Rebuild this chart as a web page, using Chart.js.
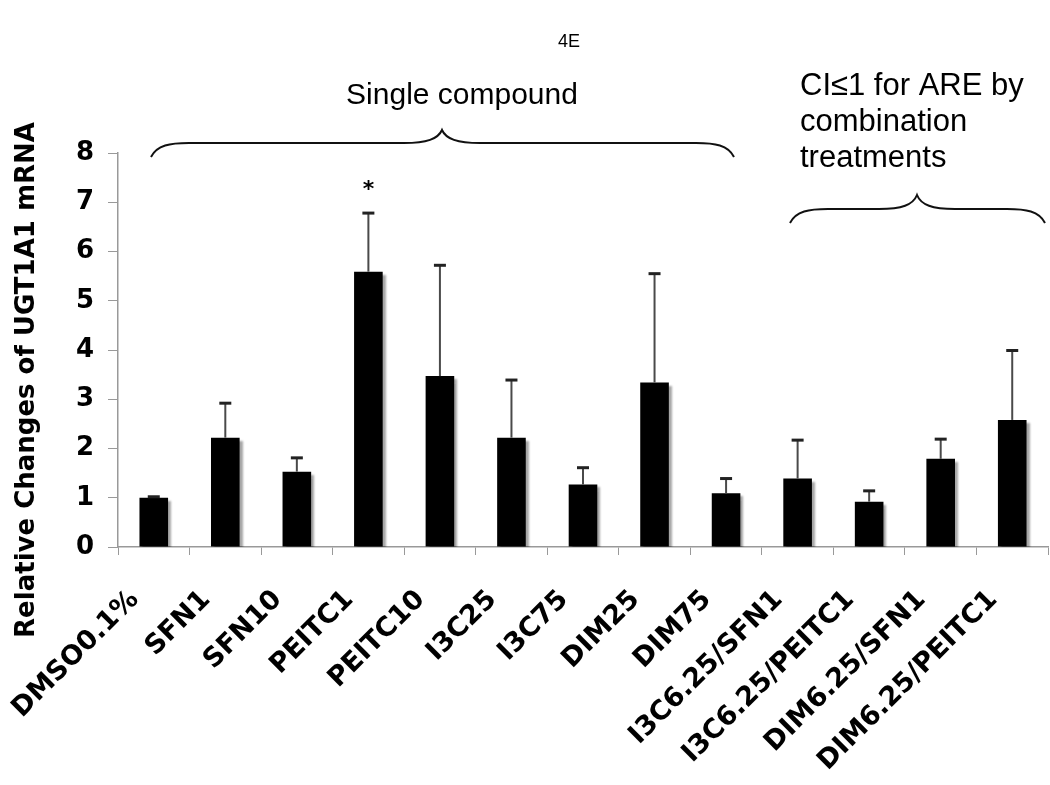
<!DOCTYPE html>
<html>
<head>
<meta charset="utf-8">
<script src="https://cdn.jsdelivr.net/npm/chart.js@4/dist/chart.umd.min.js"></script>
<style>
  html, body { margin: 0; padding: 0; background: #fff; }
</style>
</head>
<body>
<canvas id="ugtChart" width="1050" height="785"></canvas>
<script>
// data
const labels = ['DMSO0.1%', 'SFN1', 'SFN10', 'PEITC1', 'PEITC10', 'I3C25', 'I3C75', 'DIM25', 'DIM75',
                'I3C6.25/SFN1', 'I3C6.25/PEITC1', 'DIM6.25/SFN1', 'DIM6.25/PEITC1'];
const means = [1.00, 2.22, 1.53, 5.59, 3.47, 2.22, 1.27, 3.34, 1.09, 1.39, 0.92, 1.79, 2.58];
const errs  = [0.02, 0.70, 0.28, 1.19, 2.25, 1.17, 0.34, 2.21, 0.30, 0.78, 0.22, 0.40, 1.41];
const sigMarks = ['', '', '', '*', '', '', '', '', '', '', '', '', ''];
const yTicks = [0, 1, 2, 3, 4, 5, 6, 7, 8];

// draws a curly brace opening downwards
function brace(ctx, x0, x1, yLine, yEnd, yApex, xMid) {
    const r = 38;
    ctx.beginPath();
    ctx.moveTo(x0, yEnd);
    ctx.bezierCurveTo(x0 + 6, yLine + 2, x0 + r * 0.5, yLine, x0 + r, yLine);
    ctx.lineTo(xMid - r, yLine);
    ctx.bezierCurveTo(xMid - r * 0.4, yLine, xMid - 4, yLine - 4, xMid, yApex);
    ctx.bezierCurveTo(xMid + 4, yLine - 4, xMid + r * 0.4, yLine, xMid + r, yLine);
    ctx.lineTo(x1 - r, yLine);
    ctx.bezierCurveTo(x1 - r * 0.5, yLine, x1 - 6, yLine + 2, x1, yEnd);
    ctx.stroke();
}

const extras = {
    id: 'extras',
    beforeDatasetsDraw(chart) {
        const ctx = chart.ctx;
        ctx.save();
        ctx.shadowColor = 'rgba(0,0,0,0.35)';
        ctx.shadowOffsetX = 3;
        ctx.shadowOffsetY = 3;
        ctx.shadowBlur = 2;
    },
    afterDatasetsDraw(chart) {
        const ctx = chart.ctx;
        ctx.restore();
        const y = chart.scales.y;
        const meta = chart.getDatasetMeta(0);
        ctx.save();
        meta.data.forEach((bar, i) => {
            const top = y.getPixelForValue(means[i] + errs[i]);
            const base = y.getPixelForValue(means[i]);
            ctx.strokeStyle = '#4a4a4a';
            ctx.lineWidth = 2;
            ctx.beginPath();
            ctx.moveTo(bar.x, base);
            ctx.lineTo(bar.x, top);
            ctx.stroke();
            ctx.strokeStyle = '#222';
            ctx.lineWidth = 3;
            ctx.beginPath();
            ctx.moveTo(bar.x - 6, top);
            ctx.lineTo(bar.x + 6, top);
            ctx.stroke();
            if (sigMarks[i]) {
                ctx.fillStyle = '#000';
                ctx.font = 'bold 22px "DejaVu Sans"';
                ctx.textAlign = 'center';
                ctx.textBaseline = 'middle';
                ctx.fillText(sigMarks[i], bar.x, y.getPixelForValue(means[i] + errs[i] + 0.55) + 4);
            }
        });
        ctx.restore();
    },
    afterDraw(chart) {
        const ctx = chart.ctx;
        ctx.save();
        ctx.fillStyle = '#000';
        ctx.strokeStyle = '#111';
        ctx.lineWidth = 2;

        // y axis title
        ctx.save();
        ctx.translate(27, 380);
        ctx.rotate(-Math.PI / 2);
        ctx.font = 'bold 26px "DejaVu Sans"';
        ctx.textAlign = 'center';
        ctx.textBaseline = 'middle';
        ctx.fillText('Relative Changes of UGT1A1 mRNA', 0, 0);
        ctx.restore();

        // panel tag
        ctx.font = '18px "Liberation Sans"';
        ctx.textAlign = 'center';
        ctx.textBaseline = 'alphabetic';
        ctx.fillText('4E', 569, 47);

        // group annotations
        ctx.font = '30px "Liberation Sans"';
        ctx.fillText('Single compound', 462, 104);
        brace(ctx, 151, 734, 143, 157, 130, 442);

        ctx.textAlign = 'left';
        ctx.font = '31px "Liberation Sans"';
        ctx.fillText('CI\u22641 for ARE by', 800, 95);
        ctx.fillText('combination', 800, 131);
        ctx.fillText('treatments', 800, 167);
        brace(ctx, 790, 1045, 209, 223, 195, 917);
        ctx.restore();
    }
};

new Chart(document.getElementById('ugtChart'), {
    type: 'bar',
    data: {
        labels: labels,
        datasets: [{
            data: means,
            backgroundColor: '#000',
            borderWidth: 0,
            barPercentage: 0.8,
            categoryPercentage: 0.5
        }]
    },
    options: {
        responsive: false,
        animation: false,
        layout: { padding: { top: 153, right: 2, left: 0, bottom: 0 } },
        plugins: {
            legend: { display: false },
            tooltip: { enabled: false }
        },
        scales: {
            x: {
                grid: { drawOnChartArea: false, tickLength: 8, color: '#999', offset: true },
                border: { color: '#999', width: 1.5 },
                ticks: {
                    autoSkip: false,
                    minRotation: 45,
                    maxRotation: 45,
                    padding: 29,
                    labelOffset: -19,
                    color: '#000',
                    font: { family: 'DejaVu Sans', weight: 'bold', size: 27 }
                },
                afterFit(scale) {
                    scale.height = 785 - 547;
                    scale.paddingLeft = 0;
                    scale.paddingRight = 0;
                }
            },
            y: {
                min: 0,
                max: 8,
                afterBuildTicks(scale) { scale.ticks = yTicks.map(v => ({ value: v })); },
                grid: { drawOnChartArea: false, tickLength: 10, color: '#999' },
                border: { color: '#999', width: 1.5 },
                ticks: { padding: 14, color: '#000', font: { family: 'DejaVu Sans', weight: 'bold', size: 26 } },
                afterFit(scale) { scale.width = 118; }
            }
        }
    },
    plugins: [extras]
});
</script>
</body>
</html>
